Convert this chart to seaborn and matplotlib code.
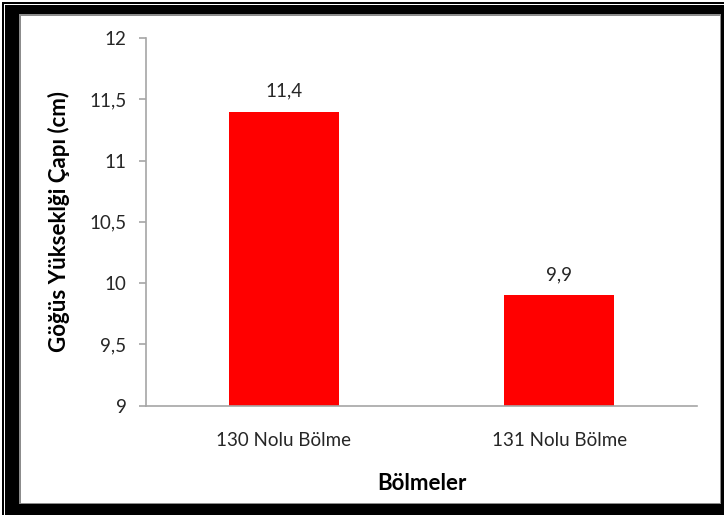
import matplotlib
matplotlib.use("Agg")
import matplotlib.pyplot as plt
from matplotlib.patches import Rectangle
from matplotlib.ticker import FixedLocator, FixedFormatter
import seaborn as sns
import pandas as pd

# Data
categories = ["130 Nolu Bölme", "131 Nolu Bölme"]
values = [11.4, 9.9]
y_ticks = [9, 9.5, 10, 10.5, 11, 11.5, 12]
y_tick_labels = ["9", "9,5", "10", "10,5", "11", "11,5", "12"]
x_title = "Bölmeler"
y_title = "Göğüs Yükseklği Çapı (cm)"

W, H = 724, 515
DPI = 100

sns.set_theme(style="white")
plt.rcParams["font.family"] = ["Lato", "DejaVu Sans"]

fig = plt.figure(figsize=(W / DPI, H / DPI), dpi=DPI)
fig.patch.set_facecolor("white")


def px_rect(x0, y0, x1, y1, color):
    """Rectangle given in pixel coordinates with the origin at the top left."""
    fig.patches.append(Rectangle((x0 / W, 1 - y1 / H), (x1 - x0) / W, (y1 - y0) / H,
                                 transform=fig.transFigure, facecolor=color,
                                 edgecolor="none", zorder=-5))


# Frame: thin outer line, white gap, heavy black border and a grey inner edge
px_rect(2, 2, 724, 515, "black")
px_rect(4, 4, 724, 515, "white")
px_rect(5, 5, 724, 515, "black")
px_rect(19, 14, 721, 504, "#8c8c8c")
px_rect(21, 16, 720, 503, "white")

ax = fig.add_axes([146 / W, 1 - 405.7 / H, (697 - 146) / W, (405.7 - 38) / H])
ax.set_facecolor("none")

df = pd.DataFrame({"cat": categories, "val": values})
sns.barplot(data=df, x="cat", y="val", color="#FF0000", saturation=1,
            width=0.4, ax=ax, edgecolor="none")

ax.set_ylim(9, 12)
ax.set_xlim(-0.5, 1.5)

ax.yaxis.set_major_locator(FixedLocator(y_ticks))
ax.yaxis.set_major_formatter(FixedFormatter(y_tick_labels))

axis_color = "#a6a6a6"
for side in ["top", "right"]:
    ax.spines[side].set_visible(False)
for side in ["left", "bottom"]:
    ax.spines[side].set_color(axis_color)
    ax.spines[side].set_linewidth(1.2)

ax.tick_params(axis="y", which="major", direction="out", length=5, width=1.2,
               color=axis_color, pad=9, labelsize=13.5, labelcolor="#262626", left=True)
ax.tick_params(axis="x", which="major", length=0, pad=19, labelsize=13.5,
               labelcolor="#262626")

ax.set_xlabel(x_title, fontsize=16, fontweight="bold", color="black")
ax.set_ylabel(y_title, fontsize=16, fontweight="bold", color="black")
ax.xaxis.set_label_coords(0.5, -0.183)
ax.yaxis.set_label_coords(-0.138, 0.5)

labels = [f"{v:.1f}".replace(".", ",") for v in values]
ax.bar_label(ax.containers[0], labels=labels, padding=9, fontsize=13.5, color="#262626")

fig.savefig("out.png", dpi=DPI)
